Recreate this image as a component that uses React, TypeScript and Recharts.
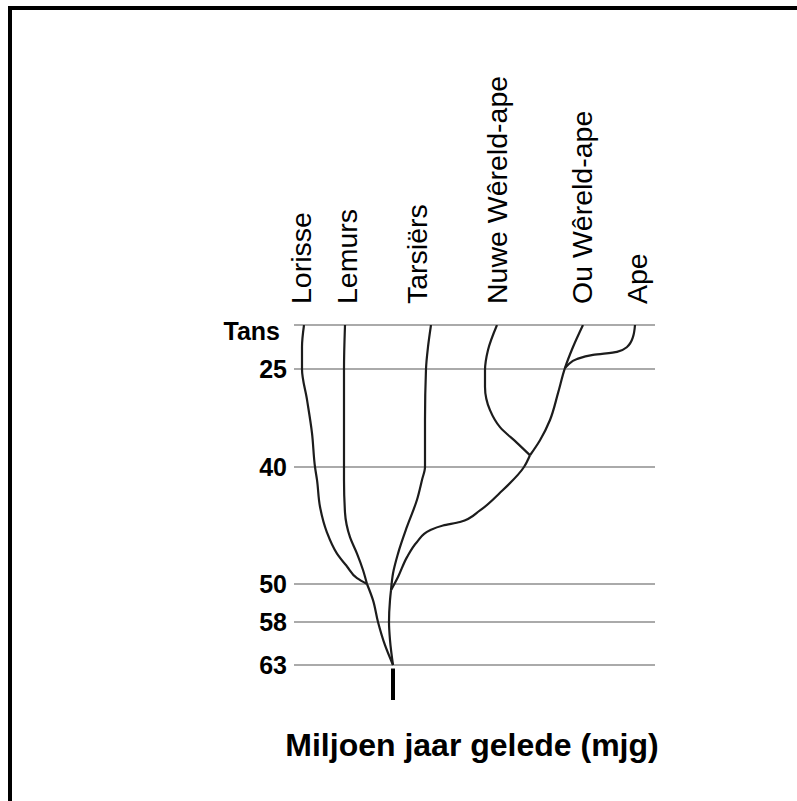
import React from 'react';
import { LineChart, Line, XAxis, YAxis, ReferenceLine } from 'recharts';

// ages (million years ago) shown on the left
const TICK_AGES = [0, 25, 40, 50, 58, 63];

// species at the tips, and where their labels sit along the lateral axis
const SPECIES = ['Lorisse', 'Lemurs', 'Tarsiërs', 'Nuwe Wêreld-ape', 'Ou Wêreld-ape', 'Ape'];
const LABEL_POS = [7, 53, 123, 203, 288, 343];

// branches, read from top (today) to the split they come out of
const LORISSE = [
  { pos: 10, age: 0 }, { pos: 8, age: 12.5 }, { pos: 8, age: 25 }, { pos: 13, age: 29.7 },
  { pos: 18, age: 34.8 }, { pos: 21, age: 40 }, { pos: 23, age: 41.1 }, { pos: 26, age: 43.4 },
  { pos: 33, age: 45.6 }, { pos: 43, age: 47.4 }, { pos: 53, age: 48.5 }, { pos: 63, age: 49.5 },
  { pos: 73, age: 50 },
];
const LEMURS = [
  { pos: 51, age: 0 }, { pos: 50, age: 25 }, { pos: 50, age: 40 }, { pos: 50, age: 41.1 },
  { pos: 51, age: 43.9 }, { pos: 56, age: 46 }, { pos: 63, age: 47.4 }, { pos: 69, age: 48.8 },
  { pos: 73, age: 50 },
];
const STREP_STEM = [
  { pos: 73, age: 50 }, { pos: 79, age: 53.4 }, { pos: 84, age: 58 }, { pos: 91, age: 60.7 },
  { pos: 99, age: 63 },
];
const TARSIERS = [
  { pos: 137, age: 0 }, { pos: 134, age: 12.5 }, { pos: 132, age: 25 }, { pos: 131, age: 32.8 },
  { pos: 131, age: 40 }, { pos: 128, age: 41.1 }, { pos: 123, age: 42.8 }, { pos: 113, age: 45.1 },
  { pos: 104, age: 47.4 }, { pos: 99, age: 49.1 }, { pos: 97, age: 51.3 },
];
const NEW_WORLD = [
  { pos: 203, age: 0 }, { pos: 194, age: 14.2 }, { pos: 191, age: 25.2 }, { pos: 191, age: 27.7 },
  { pos: 196, age: 31.3 }, { pos: 206, age: 33.9 }, { pos: 223, age: 36.3 }, { pos: 236, age: 38.2 },
];
const APES = [
  { pos: 341, age: 0 }, { pos: 339, age: 6.8 }, { pos: 333, age: 12.5 }, { pos: 323, age: 15.3 },
  { pos: 299, age: 17 }, { pos: 283, age: 19.3 }, { pos: 274, age: 22.7 }, { pos: 271, age: 24.4 },
];
const OLD_WORLD = [
  { pos: 289, age: 0 }, { pos: 279, age: 12.5 }, { pos: 271, age: 24.4 }, { pos: 264, age: 28.7 },
  { pos: 256, age: 32.8 }, { pos: 246, age: 35.9 }, { pos: 236, age: 38.2 },
];
const ANTHROPOID_STEM = [
  { pos: 236, age: 38.2 }, { pos: 230, age: 40 }, { pos: 206, age: 42.2 }, { pos: 186, age: 43.7 },
  { pos: 166, age: 44.7 }, { pos: 149, age: 45 }, { pos: 136, age: 45.4 }, { pos: 123, age: 46.4 },
  { pos: 113, age: 47.7 }, { pos: 104, age: 49.4 }, { pos: 97, age: 51.3 },
];
const HAPLO_STEM = [
  { pos: 97, age: 51.3 }, { pos: 96, age: 53.4 }, { pos: 95, age: 58 }, { pos: 96, age: 60.1 },
  { pos: 99, age: 63 },
];
const ROOT = [{ pos: 99, age: 63.4 }, { pos: 99, age: 67 }];

const BRANCHES = [LORISSE, LEMURS, STREP_STEM, TARSIERS, NEW_WORLD, APES, OLD_WORLD, ANTHROPOID_STEM, HAPLO_STEM];

// the time axis is schematic: each age level gets its own spacing
const LEVEL_AGES = [0, 25, 40, 50, 58, 63, 67];
const LEVEL_FRAC = [0, 0.1173, 0.3787, 0.6907, 0.792, 0.9067, 1];

function schematicScale(): any {
  let dom: number[] = [0, 67];
  let rng: number[] = [0, 1];
  const s: any = (v: number) => {
    let t = 0;
    if (v <= LEVEL_AGES[0]) t = LEVEL_FRAC[0];
    else if (v >= LEVEL_AGES[LEVEL_AGES.length - 1]) t = LEVEL_FRAC[LEVEL_FRAC.length - 1];
    else {
      for (let i = 0; i < LEVEL_AGES.length - 1; i++) {
        const a0 = LEVEL_AGES[i];
        const a1 = LEVEL_AGES[i + 1];
        if (v >= a0 && v <= a1) {
          t = LEVEL_FRAC[i] + ((v - a0) / (a1 - a0)) * (LEVEL_FRAC[i + 1] - LEVEL_FRAC[i]);
          break;
        }
      }
    }
    return rng[0] + t * (rng[1] - rng[0]);
  };
  s.domain = (d?: number[]) => {
    if (d === undefined) return dom;
    dom = d.slice();
    return s;
  };
  s.range = (r?: number[]) => {
    if (r === undefined) return rng;
    rng = r.slice();
    return s;
  };
  s.copy = () => {
    const c = schematicScale();
    c.domain(dom).range(rng);
    return c;
  };
  s.ticks = () => TICK_AGES;
  s.tickFormat = () => (v: number) => String(v);
  return s;
}

const AgeTick = (props: any) => {
  const { x, y, payload } = props;
  const isNow = payload.value === 0;
  return (
    <text
      x={isNow ? x - 6 : x + 1}
      y={isNow ? y + 6 : y}
      dy="0.355em"
      textAnchor="end"
      fontFamily="Arial, 'Liberation Sans', sans-serif"
      fontSize={25}
      fontWeight="bold"
      fill="#000"
    >
      {isNow ? 'Tans' : payload.value}
    </text>
  );
};

const SpeciesTick = (props: any) => {
  const { x, y, payload } = props;
  const idx = LABEL_POS.indexOf(payload.value);
  return (
    <text
      transform={`translate(${x + 10},${y - 13}) rotate(-90)`}
      textAnchor="start"
      fontFamily="Arial, 'Liberation Sans', sans-serif"
      fontSize={28.5}
      fill="#000"
    >
      {SPECIES[idx]}
    </text>
  );
};

export default function App() {
  const scale = schematicScale();
  return (
    <div style={{ position: 'absolute', left: 0, top: 0, width: 797, height: 801, background: '#fff', overflow: 'hidden' }}>
      <div style={{ position: 'absolute', left: 8, top: 6, width: 789, height: 4, background: '#000' }} />
      <div style={{ position: 'absolute', left: 8, top: 6, width: 4, height: 795, background: '#000' }} />

      <div style={{ position: 'absolute', left: 0, top: 0 }}>
        <LineChart width={797} height={801} margin={{ top: 305, right: 142, bottom: 101, left: 214 }}>
          <XAxis
            xAxisId="lat"
            type="number"
            dataKey="pos"
            orientation="top"
            domain={[0, 361]}
            ticks={LABEL_POS}
            interval={0}
            height={20}
            axisLine={false}
            tickLine={false}
            tick={<SpeciesTick />}
            allowDataOverflow
          />
          <YAxis
            yAxisId="age"
            type="number"
            dataKey="age"
            domain={[0, 67]}
            reversed
            scale={scale}
            ticks={TICK_AGES}
            interval={0}
            width={80}
            axisLine={false}
            tickLine={false}
            tick={<AgeTick />}
            allowDataOverflow
          />
          {TICK_AGES.map((a) => (
            <ReferenceLine
              key={`level-${a}`}
              xAxisId="lat"
              yAxisId="age"
              y={a}
              stroke="#8e8e8e"
              strokeWidth={1.6}
            />
          ))}
          {BRANCHES.map((b, i) => (
            <Line
              key={`branch-${i}`}
              xAxisId="lat"
              yAxisId="age"
              data={b}
              dataKey="age"
              type="monotoneY"
              stroke="#1c1c1c"
              strokeWidth={2.2}
              dot={false}
              activeDot={false}
              isAnimationActive={false}
            />
          ))}
          <Line
            xAxisId="lat"
            yAxisId="age"
            data={ROOT}
            dataKey="age"
            type="linear"
            stroke="#000"
            strokeWidth={4}
            dot={false}
            activeDot={false}
            isAnimationActive={false}
          />
        </LineChart>
      </div>

      <div
        style={{
          position: 'absolute',
          left: 222,
          top: 727,
          width: 500,
          textAlign: 'center',
          fontFamily: "Arial, 'Liberation Sans', sans-serif",
          fontSize: 32,
          fontWeight: 'bold',
          lineHeight: 'normal',
          whiteSpace: 'nowrap',
        }}
      >
        Miljoen jaar gelede (mjg)
      </div>
    </div>
  );
}
